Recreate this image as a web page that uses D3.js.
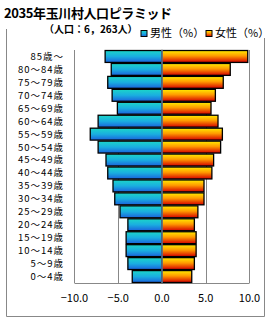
<!DOCTYPE html>
<html><head><meta charset="utf-8">
<script src="https://cdn.jsdelivr.net/npm/d3@7"></script>
<style>body{margin:0;background:#fff}text{font-family:"Noto Sans CJK JP","Noto Sans",sans-serif}</style>
</head><body><svg id="c" width="270" height="320"></svg>
<script>
const categories = ["85歳～","80～84歳","75～79歳","70～74歳","65～69歳","60～64歳","55～59歳","50～54歳","45～49歳","40～44歳","35～39歳","30～34歳","25～29歳","20～24歳","15～19歳","10～14歳","5～9歳","0～4歳"];
const male =   [6.5,5.8,6.2,5.7,5.1,7.3,8.2,7.3,6.4,6.2,5.6,5.4,4.8,3.9,4.1,4.1,3.9,3.4];
const female = [9.8,7.8,7.0,6.1,5.6,6.4,6.9,6.7,5.9,5.7,4.8,4.8,4.1,3.7,3.9,3.9,3.7,3.4];
const xTicks = [-10,-5,0,5,10];
const xTickLabels = ["−10.0","−5.0","0.0","5.0","10.0"];
const title = "2035年玉川村人口ピラミッド";
const subtitle = "（人口：6，263人）";
const legendLabels = ["男性（%）","女性（%）"];

const svg = d3.select("#c");
const defs = svg.append("defs");
function grad(id, stops){
  const g = defs.append("linearGradient").attr("id",id).attr("x1",0).attr("y1",0).attr("x2",0).attr("y2",1);
  stops.forEach(s=>g.append("stop").attr("offset",s[0]).attr("stop-color",s[1]));
}
grad("gm",[[0,"#1cd6c8"],[0.5,"#1aaee0"],[1,"#1a62dc"]]);
grad("gf",[[0,"#ffec00"],[0.45,"#ff9a00"],[1,"#d40000"]]);

const L=74.5, R=249.5, T=50, B=283;
const x = d3.scaleLinear().domain([-10,10]).range([L,R]);
const y = d3.scaleBand().domain(categories).range([T,B]).paddingInner(0.08).paddingOuter(0.04);

// outer frame
svg.append("line").attr("x1",6.5).attr("x2",6.5).attr("y1",29).attr("y2",316.5).attr("stroke","#888");
svg.append("line").attr("x1",264.5).attr("x2",264.5).attr("y1",38).attr("y2",316.5).attr("stroke","#888");
svg.append("line").attr("x1",6.5).attr("x2",264.5).attr("y1",316.5).attr("y2",316.5).attr("stroke","#888");

// grid
[-5,5].forEach(v=>svg.append("line").attr("x1",Math.round(x(v))+0.5).attr("x2",Math.round(x(v))+0.5).attr("y1",T).attr("y2",B).attr("stroke","#888"));
svg.append("line").attr("x1",L).attr("x2",L).attr("y1",T).attr("y2",B).attr("stroke","#888");
svg.append("line").attr("x1",R).attr("x2",R).attr("y1",T).attr("y2",B).attr("stroke","#888");
svg.append("line").attr("x1",L).attr("x2",R).attr("y1",B+0.5).attr("y2",B+0.5).attr("stroke","#888");

// bars
svg.selectAll(".m").data(categories).join("rect")
  .attr("x",(d,i)=>x(-male[i])).attr("y",d=>y(d)).attr("width",(d,i)=>x(0)-x(-male[i])).attr("height",y.bandwidth())
  .attr("fill","url(#gm)").attr("stroke","#000").attr("stroke-width",1.3);
svg.selectAll(".f").data(categories).join("rect")
  .attr("x",x(0)).attr("y",d=>y(d)).attr("width",(d,i)=>x(female[i])-x(0)).attr("height",y.bandwidth())
  .attr("fill","url(#gf)").attr("stroke","#000").attr("stroke-width",1.3);
svg.append("line").attr("x1",x(0)).attr("x2",x(0)).attr("y1",T).attr("y2",B).attr("stroke","#7b9cc0").attr("stroke-width",1.2);

// y labels
svg.selectAll(".yl").data(categories).join("text")
  .attr("x",64).attr("y",d=>y(d)+y.bandwidth()/2).attr("dy","0.36em").attr("text-anchor","end")
  .attr("font-size",9.5).attr("letter-spacing",1).attr("fill","#000").text(d=>d);

// x labels
svg.selectAll(".xl").data(xTicks).join("text")
  .attr("x",d=>x(d)).attr("y",298).attr("dy","0.36em").attr("text-anchor","middle")
  .attr("font-size",11).attr("fill","#000").text((d,i)=>xTickLabels[i]);

// title
svg.append("text").attr("x",4).attr("y",18).attr("font-size",13).attr("font-weight","bold").attr("letter-spacing",-0.4).text(title);
svg.append("text").attr("x",44).attr("y",33).attr("font-size",10).attr("font-weight","bold").text(subtitle);

// legend
[[141,"url(#gm)",legendLabels[0],150],[206,"url(#gf)",legendLabels[1],215]].forEach(l=>{
  svg.append("rect").attr("x",l[0]).attr("y",30.5).attr("width",6).attr("height",6).attr("fill",l[1]).attr("stroke","#000");
  svg.append("text").attr("x",l[3]).attr("y",33.5).attr("dy","0.36em").attr("font-size",11).text(l[2]);
});
</script></body></html>
